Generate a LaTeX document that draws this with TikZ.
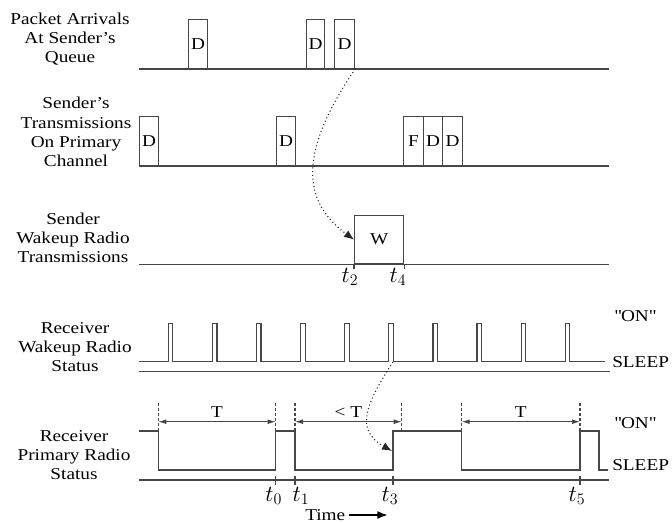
\documentclass[tikz,border=0pt]{standalone}
\usepackage[no-math]{fontspec}
\setmainfont{Liberation Serif}[FakeStretch=1.16]
\usetikzlibrary{arrows.meta}
\newcommand\txtsz{\fontsize{12.45pt}{14.4pt}\selectfont}
\newcommand\mathsz{\fontsize{18pt}{19pt}\selectfont}
\newcommand\sq{\XeTeXglyph\XeTeXcharglyph"22\relax}
\newcommand\qon{\sq ON\sq}
\begin{document}
\begin{tikzpicture}[x=0.75pt,y=-0.75pt,
  sig/.style={draw=black!72,line width=0.9pt},
  pbox/.style={draw=black!72,line width=0.9pt,inner sep=0pt,anchor=south west,font=\txtsz},
  lbl/.style={align=center,inner sep=0pt,font=\txtsz},
  rlbl/.style={anchor=west,inner sep=0pt,font=\txtsz},
  tl/.style={inner sep=0pt,font=\mathsz},
  dline/.style={draw=black!72,line width=0.8pt,dash pattern=on 2.2pt off 1.6pt},
  dimarr/.style={draw=black!72,line width=0.7pt,{Latex[length=6pt,width=3.6pt]}-{Latex[length=6pt,width=3.6pt]}},
  dimlbl/.style={above=2.5pt,inner sep=0pt,font=\txtsz},
  dotarrow/.style={draw=black!85,line width=0.8pt,dotted,-{Latex[length=7.5pt,width=6pt]}},
  tickln/.style={draw=black!72,line width=0.8pt}
]
\useasboundingbox (0,0) rectangle (672,522);

% row labels
\node[lbl] (l1) at (70,39) {Packet Arrivals\\At Sender's\\Queue};
\node[lbl] (l2) at (76,132) {Sender's\\Transmissions\\On Primary\\Channel};
\node[lbl] (l3) at (73,238) {Sender\\Wakeup Radio\\Transmissions};
\node[lbl] (l4) at (75,347) {Receiver\\Wakeup Radio\\Status};
\node[lbl] (l5) at (74,455) {Receiver\\Primary Radio\\Status};

% axes
\draw[sig] (139,69) -- (609,69);
\draw[sig] (139,166) -- (609,166);
\draw[sig] (139,264.5) -- (609,264.5);
\draw[sig] (139,371.7) -- (610,371.7);
\draw[sig] (139,480) -- (609,480);

% row 1: packet arrivals
\node[pbox,minimum width=14.25pt,minimum height=36.75pt] (a1) at (188,69) {D};
\node[pbox,minimum width=13.5pt,minimum height=36.75pt] (a2) at (306,69) {D};
\node[pbox,minimum width=15pt,minimum height=36.75pt] (a3) at (334,69) {D};

% row 2: transmissions on primary channel
\node[pbox,minimum width=14.25pt,minimum height=36.75pt] (b1) at (139,166) {D};
\node[pbox,minimum width=14.25pt,minimum height=36.75pt] (b2) at (276,166) {D};
\node[pbox,minimum width=15pt,minimum height=36.75pt] (b3) at (403,166) {F};
\node[pbox,minimum width=14.25pt,minimum height=36.75pt] (b4) at (423,166) {D};
\node[pbox,minimum width=15pt,minimum height=36.75pt] (b5) at (442,166) {D};

% row 3: sender wakeup radio
\node[pbox,minimum width=36.75pt,minimum height=36.4pt] (w) at (354,264.5) {W};
\draw[sig] (w.south west) -- ++(0,4.5);
\draw[sig] (w.south east) -- ++(0,4.5);
\node[tl] (t2) at (350,277) {$t_2$};
\node[tl] (t4) at (398,277) {$t_4$};

% row 4: receiver wakeup radio
\draw[sig] (139,361.7) foreach \k in {0,...,9} { -- ({168.3+44.1*\k},361.7) -- ++(0,-38.4) -- ++(4.5,0) -- ++(0,38.4) } -- (605,361.7);
\node[rlbl] (on1) at (614,316) {\qon};
\node[rlbl] (sl1) at (612,362) {SLEEP};

% row 5: receiver primary radio
\draw[sig] (139,431) -| (158.3,470) -| (275.7,431) -| (295,470) -| (393,431) -| (461.7,470) -| (580,431) -| (599,470) -- (608,470);
\foreach \x/\n in {158.3/d0,275.7/d1,295/d2,401.7/d3,461.7/d4,580/d5} {
  \coordinate (\n) at (\x,421.7);
  \draw[dline] (\x,403) -- (\x,431);
}
\draw[dimarr] (d0) -- node[dimlbl] {T} (d1);
\draw[dimarr] (d2) -- node[dimlbl] {< T} (d3);
\draw[dimarr] (d4) -- node[dimlbl] {T} (d5);
\foreach \x in {275.7,295,393,580} \draw[tickln] (\x,476) -- (\x,485);
\node[tl] (t0) at (273.7,496) {$t_0$};
\node[tl] (t1) at (301,496) {$t_1$};
\node[tl] (t3) at (390,496) {$t_3$};
\node[tl] (t5) at (577,496) {$t_5$};
\node[rlbl] (on2) at (614,423) {\qon};
\node[rlbl] (sl2) at (612,465) {SLEEP};

% time arrow
\node[rlbl] (time) at (305,515) {Time};
\coordinate (tend) at (388,515);
\draw[line width=1.4pt,shorten <=2.5pt,-{Latex[length=8pt,width=6pt]}] (time.east) -- (tend);

% dotted causal arrows
\draw[dotarrow] (a3.south east) .. controls (300,150) and (300,200) .. (w.west);
\coordinate (p6) at (393,362);
\coordinate (r3) at (392,451);
\draw[dotarrow] (p6) .. controls (365,405) and (355,430) .. (r3);
\end{tikzpicture}
\end{document}
